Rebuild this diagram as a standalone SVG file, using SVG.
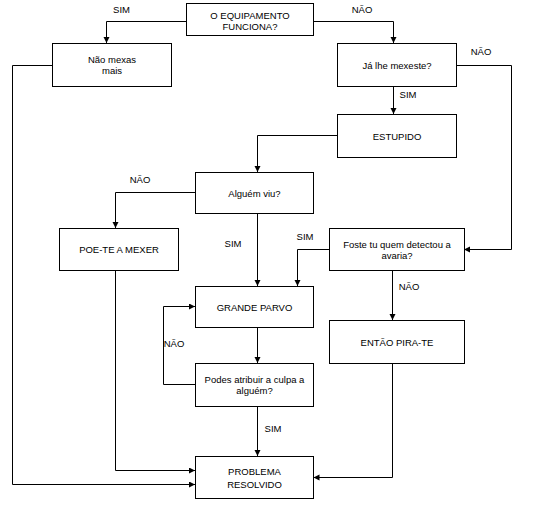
<svg xmlns="http://www.w3.org/2000/svg" width="540" height="510" viewBox="0 0 540 510">
<defs>
<marker id="arr" markerUnits="userSpaceOnUse" markerWidth="7" markerHeight="7" refX="6" refY="3" orient="auto">
<path d="M0,0 L6,3 L0,6 z" fill="#000"/>
</marker>
<style>
.box{fill:#fff;stroke:#000;stroke-width:1}
.t{font-family:"Liberation Sans",Arial,sans-serif;font-size:9.5px;fill:#000;text-anchor:middle}
.c{fill:none;stroke:#000;stroke-width:1;marker-end:url(#arr)}
.l{fill:none;stroke:#000;stroke-width:1}
</style>
</defs>
<rect width="540" height="510" fill="#fff"/>
<g id="connectors">
<polyline class="c" points="186.5,21.5 106.5,21.5 106.5,43"/>
<polyline class="c" points="313.5,21.5 393.5,21.5 393.5,43"/>
<polyline class="c" points="393.5,86 393.5,114"/>
<polyline class="c" points="337.5,135.5 257.5,135.5 257.5,172"/>
<polyline class="c" points="195.5,192.5 115.5,192.5 115.5,228"/>
<polyline class="c" points="257.5,213 257.5,286"/>
<polyline class="c" points="456,65.5 511.5,65.5 511.5,249.5 464,249.5"/>
<polyline class="c" points="329.5,249.5 297.5,249.5 297.5,286"/>
<polyline class="c" points="392.5,270 392.5,320"/>
<polyline class="c" points="257.5,327 257.5,363"/>
<polyline class="c" points="195.5,384.5 163.5,384.5 163.5,306.5 195,306.5"/>
<polyline class="c" points="257.5,406 257.5,456"/>
<polyline class="c" points="115.5,270 115.5,470.5 195,470.5"/>
<polyline class="c" points="52,65.5 12.5,65.5 12.5,484.5 195,484.5"/>
<polyline class="c" points="392.5,363 392.5,477.5 313.5,477.5"/>
</g>
<g id="labels">
<text class="t" x="121.5" y="13">SIM</text>
<text class="t" x="362" y="13">NÃO</text>
<text class="t" x="481" y="55">NÃO</text>
<text class="t" x="408" y="98">SIM</text>
<text class="t" x="140" y="183">NÃO</text>
<text class="t" x="233" y="247">SIM</text>
<text class="t" x="305" y="240">SIM</text>
<text class="t" x="409" y="290">NÃO</text>
<text class="t" x="174" y="347">NÃO</text>
<text class="t" x="273" y="432">SIM</text>
</g>
<g id="n1"><rect class="box" x="186.5" y="3.5" width="127" height="32"/><text class="t" x="250" y="18.5">O EQUIPAMENTO</text><text class="t" x="250" y="30">FUNCIONA?</text></g>
<g id="n2"><rect class="box" x="52.5" y="43.5" width="119" height="43"/><text class="t" x="112" y="62.5">Não mexas</text><text class="t" x="112" y="74">mais</text></g>
<g id="n3"><rect class="box" x="337.5" y="43.5" width="119" height="43"/><text class="t" x="397" y="68.5">Já lhe mexeste?</text></g>
<g id="n4"><rect class="box" x="337.5" y="114.5" width="119" height="43"/><text class="t" x="397" y="139.5">ESTUPIDO</text></g>
<g id="n5"><rect class="box" x="195.5" y="172.5" width="118" height="41"/><text class="t" x="254.5" y="196.5">Alguém viu?</text></g>
<g id="n6"><rect class="box" x="59.5" y="228.5" width="119" height="42"/><text class="t" x="119" y="253">POE-TE A MEXER</text></g>
<g id="n7"><rect class="box" x="329.5" y="228.5" width="135" height="42"/><text class="t" x="397" y="247.5">Foste tu quem detectou a</text><text class="t" x="397" y="258.5">avaria?</text></g>
<g id="n8"><rect class="box" x="195.5" y="286.5" width="118" height="41"/><text class="t" x="254.5" y="310.5">GRANDE PARVO</text></g>
<g id="n9"><rect class="box" x="329.5" y="320.5" width="135" height="43"/><text class="t" x="397" y="346">ENTÃO PIRA-TE</text></g>
<g id="n10"><rect class="box" x="195.5" y="363.5" width="118" height="43"/><text class="t" x="254.5" y="382.5">Podes atribuir a culpa a</text><text class="t" x="254.5" y="394">alguém?</text></g>
<g id="n11"><rect class="box" x="195.5" y="456.5" width="118" height="42"/><text class="t" x="254.5" y="475">PROBLEMA</text><text class="t" x="254.5" y="487.5">RESOLVIDO</text></g>
</svg>
